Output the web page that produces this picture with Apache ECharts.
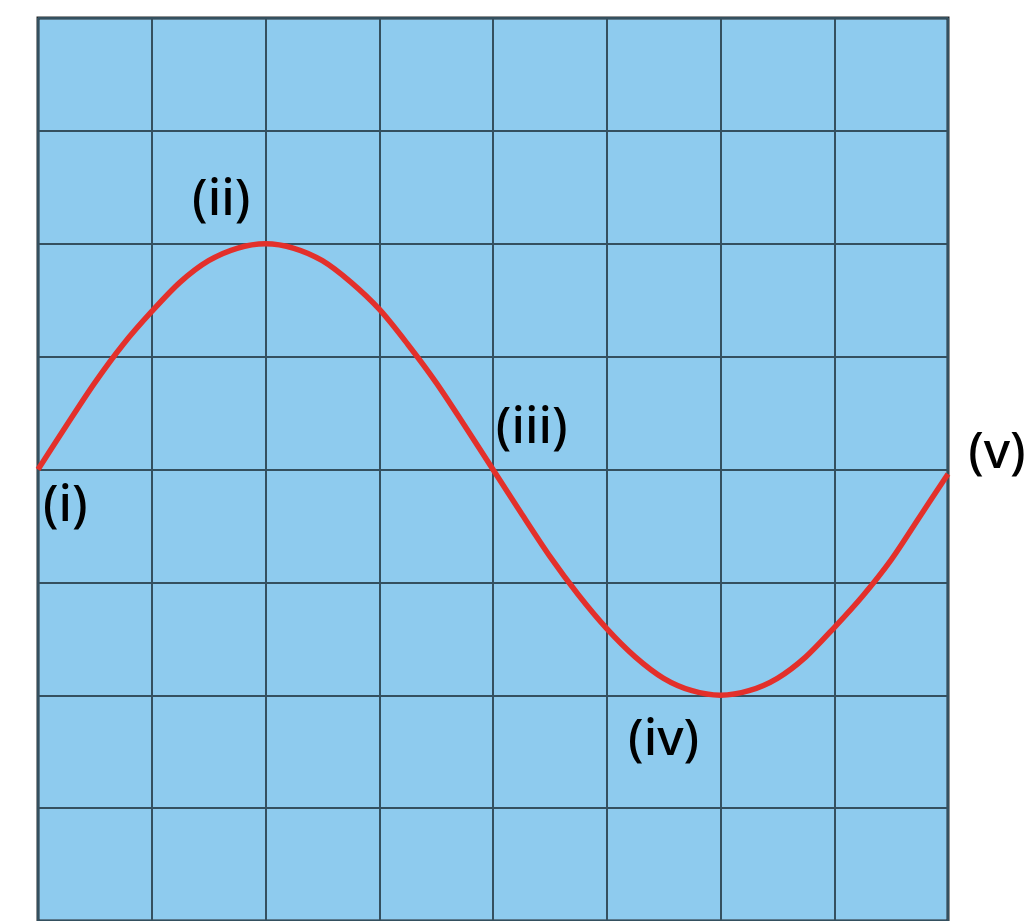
<!DOCTYPE html>
<html>
<head>
<meta charset="utf-8">
<script src="https://cdn.jsdelivr.net/npm/echarts@6/dist/echarts.min.js"></script>
<style>
html,body{margin:0;padding:0;background:#ffffff;}
#chart{width:1035px;height:921px;}
</style>
</head>
<body>
<div id="chart"></div>
<script>
// Wave values (x in grid columns, y in grid rows)
const waveX = [0, 0.25, 0.5, 0.75, 1, 1.25, 1.5, 1.75, 2, 2.25, 2.5, 2.75, 3, 3.25, 3.5, 3.75, 4,
               4.25, 4.5, 4.75, 5, 5.25, 5.5, 5.75, 6, 6.25, 6.5, 6.75, 7, 7.25, 7.5, 7.75, 8];
const waveY = [0, 0.39, 0.77, 1.11, 1.4, 1.66, 1.85, 1.96, 2, 1.96, 1.85, 1.66, 1.42, 1.11, 0.77, 0.39, 0,
               -0.39, -0.77, -1.11, -1.41, -1.66, -1.85, -1.96, -2, -1.96, -1.85, -1.66, -1.4, -1.12, -0.8, -0.42, -0.04];

// Point labels and where they sit
const labelText = ['(i)', '(ii)', '(iii)', '(iv)', '(v)'];
const labelX = [0.24, 1.61, 4.34, 5.50, 8.43];
const labelY = [-0.33, 2.38, 0.36, -2.40, 0.14];

const chart = echarts.init(document.getElementById('chart'), null, {renderer: 'canvas'});

const wave = waveX.map((x, i) => [x, waveY[i]]);
const labels = labelX.map((x, i) => ({value: [x, labelY[i]], name: labelText[i]}));

const gridLine = {show: true, lineStyle: {color: '#34505f', width: 2}};

chart.setOption({
  animation: false,
  backgroundColor: '#ffffff',
  grid: {
    left: 38, top: 18, width: 910, height: 910,
    show: true, backgroundColor: '#8ecbee', borderColor: '#262a2d', borderWidth: 3,
    containLabel: false
  },
  xAxis: {
    type: 'value', min: 0, max: 8, interval: 1,
    axisLabel: {show: false}, axisTick: {show: false}, axisLine: {show: false},
    splitLine: gridLine
  },
  yAxis: {
    type: 'value', min: -4, max: 4, interval: 1,
    axisLabel: {show: false}, axisTick: {show: false}, axisLine: {show: false},
    splitLine: gridLine
  },
  series: [
    {
      type: 'line',
      data: wave,
      smooth: 0.3,
      symbol: 'none',
      clip: false,
      lineStyle: {color: '#e3302b', width: 5.5}
    },
    {
      type: 'scatter',
      data: labels,
      symbolSize: 1,
      clip: false,
      itemStyle: {color: 'rgba(0,0,0,0)'},
      label: {
        show: true,
        position: 'inside',
        formatter: p => p.name,
        color: '#000000',
        opacity: 1,
        textBorderWidth: 0,
        fontSize: 50,
        fontWeight: 500,
        fontFamily: '"Noto Sans", sans-serif'
      },
      emphasis: {disabled: true}
    }
  ]
});
</script>
</body>
</html>
